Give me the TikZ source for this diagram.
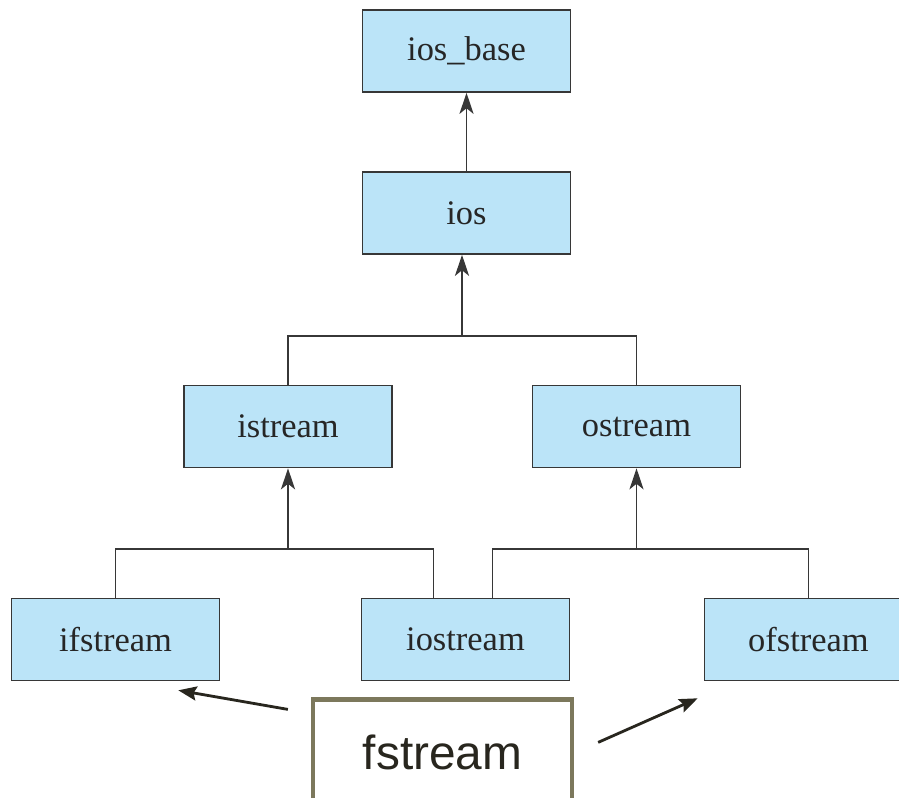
\documentclass[tikz,border=0pt]{standalone}
\usepackage{fontspec}
\setmainfont{Liberation Serif}
\newfontfamily\notefont{Liberation Sans}
\usetikzlibrary{arrows.meta, positioning, calc}
\definecolor{classcolor}{RGB}{187,228,248}
\definecolor{edgecolor}{RGB}{55,55,55}
\definecolor{notecolor}{RGB}{124,120,92}
\definecolor{pointcolor}{RGB}{40,38,30}

\begin{document}
\begin{tikzpicture}[
    x=0.025cm, y=-0.025cm,
    box/.style={draw=edgecolor, line width=1.1pt, fill=classcolor, minimum width=5.2cm, minimum height=2.05cm, inner sep=0pt, text=black!85, font=\fontsize{24.5}{29}\selectfont},
    link/.style={edgecolor, line width=1.1pt},
    arrow/.style={link, -{Stealth[length=15pt, width=10pt, inset=4pt]}},
    pointer/.style={pointcolor, line width=2pt, -{Stealth[length=13pt, width=10pt, inset=2pt]}}
]
    \useasboundingbox (0,0) rectangle (899,797);

    % Class boxes
    \node[box] (iosbase) at (466.5,51) {ios\_base};
    \node[box] (ios) at (466.5,213) {ios};
    \node[box] (istream) at (288,426.5) {istream};
    \node[box] (ostream) at (636.5,426.5) {ostream};
    \node[box] (ifstream) at (115.5,639.5) {ifstream};
    \node[box] (iostream) at (465.5,639.5) {iostream};
    \node[box] (ofstream) at (808.5,639.5) {ofstream};

    % Note box
    \node[draw=notecolor, line width=3pt, fill=white, minimum width=6.475cm, minimum height=2.625cm, inner sep=0pt, text=pointcolor, font=\notefont\fontsize{34}{40}\selectfont] (fstream) at (442.5,752) {fstream};

    % Inheritance
    \draw[arrow] (ios) -- (iosbase);

    \coordinate (j1) at (462,336);
    \draw[link] (istream.north) |- (j1) -| (ostream.north);
    \draw[arrow] (j1) -- (j1 |- ios.south);

    \coordinate (j2) at (288,549);
    \draw[link] (ifstream.north) |- (j2) -| ($(iostream.north)+(-32,0)$);
    \draw[arrow] (j2) -- (istream.south);

    \coordinate (j3) at (636.5,549);
    \draw[link] ($(iostream.north)+(27,0)$) |- (j3) -| (ofstream.north);
    \draw[arrow] (j3) -- (ostream.south);

    % Pointers from the note
    \draw[pointer] ($(fstream.north west)+(-23,12)$) -- ($(ifstream.south east)+(-42,9)$);
    \draw[pointer] ($(fstream.north east)+(24,45)$) -- ($(ofstream.south west)+(-6,17)$);
\end{tikzpicture}
\end{document}
